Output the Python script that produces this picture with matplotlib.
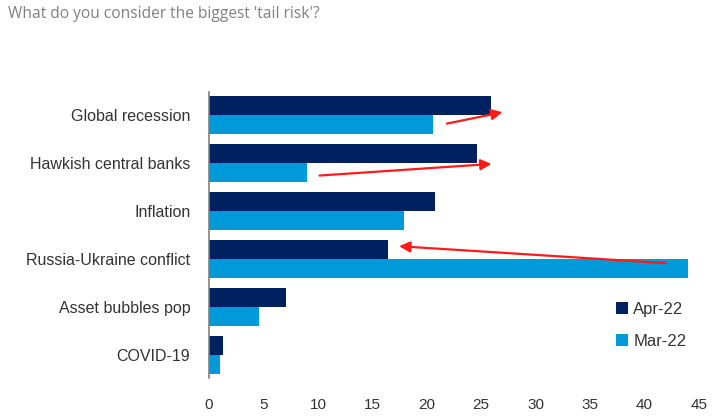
import numpy as np
import matplotlib
matplotlib.use("Agg")
import matplotlib.pyplot as plt

categories = ["Global recession", "Hawkish central banks", "Inflation",
              "Russia-Ukraine conflict", "Asset bubbles pop", "COVID-19"]
apr22 = [25.9, 24.6, 20.8, 16.4, 7.1, 1.3]
mar22 = [20.6, 9.0, 17.9, 44.0, 4.6, 1.0]
xticks = list(range(0, 50, 5))

navy = "#00215f"
light = "#009ada"

plt.rcParams["font.family"] = ["Liberation Sans", "DejaVu Sans"]

fig = plt.figure(figsize=(7.19, 4.18), dpi=100)
ax = fig.add_axes([209 / 719, 1 - 378 / 418, (699 - 209) / 719, (378 - 92) / 418])

y = np.arange(len(categories))[::-1].astype(float)
h = 0.396
ax.barh(y + h / 2, apr22, height=h, color=navy, label="Apr-22")
ax.barh(y - h / 2, mar22, height=h, color=light, label="Mar-22")

ax.set_xlim(0, 45)
ax.set_ylim(-0.48, 5.48)
ax.set_xticks(xticks)
ax.set_yticks(y)
ax.set_yticklabels(categories)
ax.tick_params(axis="both", length=0, colors="#333333")
ax.tick_params(axis="y", pad=13.5, labelsize=11.5)
ax.tick_params(axis="x", pad=14.5, labelsize=11)
for s in ["top", "right", "bottom"]:
    ax.spines[s].set_visible(False)
ax.spines["left"].set_color("#808080")
ax.spines["left"].set_linewidth(1.2)

# red arrows showing the month-on-month shift
arrow = dict(arrowstyle="-|>", color="#ff1a1a", lw=1.6, mutation_scale=16)
ax.annotate("", xy=(27.2, 5.07), xytext=(21.6, 4.81), arrowprops=arrow)
ax.annotate("", xy=(26.2, 3.985), xytext=(9.9, 3.735), arrowprops=arrow)
ax.annotate("", xy=(17.2, 2.27), xytext=(42.2, 1.91), arrowprops=arrow)

ax.legend(loc="lower right", bbox_to_anchor=(1.005, 0.049), frameon=False,
          fontsize=12, handlelength=0.75, handleheight=0.75, handletextpad=0.3,
          labelspacing=1.03, labelcolor="#333333")

fig.text(8 / 719, 1 - 14 / 418, "What do you consider the biggest 'tail risk'?",
         fontsize=11.2, color="#808080", family=["Open Sans", "DejaVu Sans"],
         va="center", ha="left")

fig.savefig("out.png", dpi=100)
